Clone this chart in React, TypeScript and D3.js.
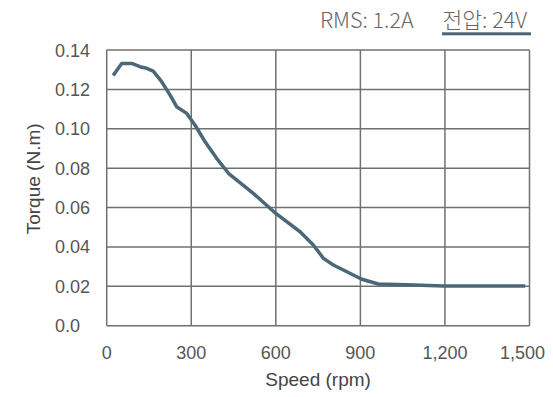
import React from "react";
import * as d3 from "d3";

const speeds = [23, 53, 89, 118, 142, 165, 195, 225, 248, 284, 313, 349, 390, 432, 520, 600, 686, 733, 769, 804, 852, 905, 964, 1065, 1195, 1485];
const torques = [0.127, 0.1332, 0.1332, 0.1315, 0.1307, 0.1293, 0.1239, 0.1171, 0.1112, 0.1078, 0.1019, 0.0934, 0.085, 0.0774, 0.0672, 0.057, 0.0477, 0.041, 0.0342, 0.0308, 0.0274, 0.0236, 0.0212, 0.0208, 0.0202, 0.0201];
const xTicks = [0, 300, 600, 900, 1200, 1500];
const yTicks = [0, 0.02, 0.04, 0.06, 0.08, 0.1, 0.12, 0.14];
const yTickLabels = ["0.0", "0.02", "0.04", "0.06", "0.08", "0.10", "0.12", "0.14"];
const headerItems = ["RMS: 1.2A", "전압: 24V"];

const W = 553;
const H = 397;
const left = 106.7;
const right = 529.5;
const top = 50;
const bottom = 325.7;

export default function App() {
  const x = d3.scaleLinear().domain([0, 1500]).range([left, right]);
  const y = d3.scaleLinear().domain([0, 0.14]).range([bottom, top]);
  const data = speeds.map((s, i) => [s, torques[i]] as [number, number]);
  const line = d3
    .line<[number, number]>()
    .x((d) => x(d[0]))
    .y((d) => y(d[1]))
    .curve(d3.curveLinear);
  const tickFont = "'Liberation Sans', Arial, sans-serif";
  const grid = "#707070";
  return (
    <svg
      width={W}
      height={H}
      style={{ position: "absolute", left: 0, top: 0, background: "#fff" }}
    >
      {/* header */}
      <text x={320} y={27.5} fontFamily="'Noto Sans CJK KR', sans-serif" fontWeight={300} fontSize={21.5} fill="#666">
        {headerItems[0]}
      </text>
      <text x={442.5} y={27.5} fontFamily="'Noto Sans CJK KR', sans-serif" fontWeight={300} fontSize={21.5} fill="#666">
        {headerItems[1]}
      </text>
      <rect x={442} y={32.3} width={89} height={3} fill="#4a6676" />

      {/* grid */}
      {yTicks.map((t) => (
        <line key={"gy" + t} x1={left} x2={right} y1={y(t)} y2={y(t)} stroke={grid} strokeWidth={1.5} />
      ))}
      {xTicks.map((t) => (
        <line key={"gx" + t} x1={x(t)} x2={x(t)} y1={top} y2={bottom} stroke={grid} strokeWidth={1.5} />
      ))}

      {/* y tick labels */}
      {yTicks.map((t, i) => (
        <text key={"ly" + t} x={55} y={y(t) + 6.5} fontFamily={tickFont} fontSize={18} fill="#555">
          {yTickLabels[i]}
        </text>
      ))}
      {/* x tick labels */}
      {xTicks.map((t, i) => {
        const last = i === xTicks.length - 1;
        return (
          <text
            key={"lx" + t}
            x={last ? W - 8 : x(t)}
            y={359}
            textAnchor={last ? "end" : "middle"}
            fontFamily={tickFont}
            fontSize={18}
            fill="#555"
          >
            {d3.format(",")(t)}
          </text>
        );
      })}

      {/* axis titles */}
      <text x={(left + right) / 2} y={386} textAnchor="middle" fontFamily={tickFont} fontSize={19} fill="#444">
        Speed (rpm)
      </text>
      <text
        transform={`translate(40, ${(top + bottom) / 2 - 9}) rotate(-90)`}
        textAnchor="middle"
        fontFamily={tickFont}
        fontSize={19}
        fill="#444"
      >
        Torque (N.m)
      </text>

      {/* curve */}
      <path d={line(data) || ""} fill="none" stroke="#4b6878" strokeWidth={3.5} strokeLinejoin="round" strokeLinecap="butt" />
    </svg>
  );
}
